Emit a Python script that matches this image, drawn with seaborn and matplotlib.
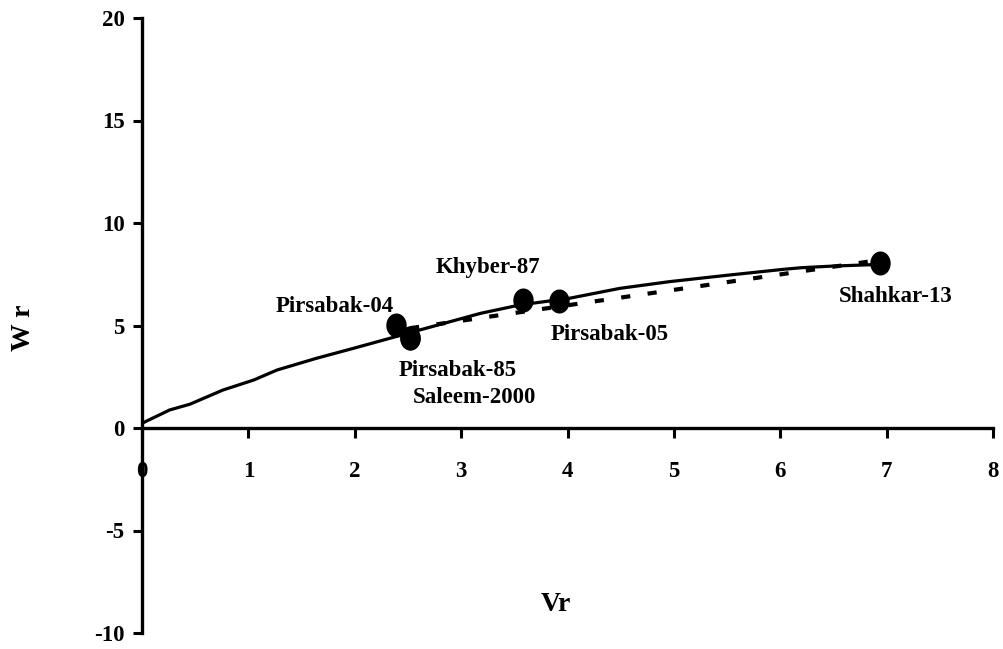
import numpy as np
import pandas as pd
import matplotlib
matplotlib.use("Agg")
import matplotlib.pyplot as plt
from matplotlib.path import Path
from matplotlib.transforms import Affine2D
import seaborn as sns

# ---------------- data ----------------
curve_vr = [0.0, 0.26, 0.45, 0.76, 1.05, 1.27, 1.64, 1.99, 2.27, 2.61, 3.18,
            3.55, 4.02, 4.49, 4.96, 5.50, 6.03, 6.20, 6.50, 6.94]
curve_wr = [0.23, 0.88, 1.16, 1.85, 2.34, 2.83, 3.40, 3.89, 4.29, 4.78, 5.59,
            6.00, 6.33, 6.81, 7.14, 7.45, 7.74, 7.82, 7.90, 7.98]

reg_vr = [2.52, 6.94]
reg_wr = [4.87, 8.20]

genotypes = ["Pirsabak-04", "Pirsabak-85", "Saleem-2000", "Khyber-87",
             "Pirsabak-05", "Shahkar-13"]
point_vr = [2.39, 2.52, 2.52, 3.58, 3.92, 6.94]
point_wr = [5.02, 4.39, 4.39, 6.24, 6.20, 8.05]

x_ticks = [0, 1, 2, 3, 4, 5, 6, 7, 8]
y_ticks = [-10, -5, 0, 5, 10, 15, 20]

# ---------------- style ----------------
sns.set_theme(style="white")
plt.rcParams["font.family"] = ["Liberation Serif", "DejaVu Serif"]
plt.rcParams["font.weight"] = "bold"

fig = plt.figure(figsize=(10.04, 6.49), dpi=100)
ax = fig.add_axes([142 / 1004, 1 - 633 / 649, (993 - 142) / 1004, (633 - 18) / 649])

curve_df = pd.DataFrame({"Vr": curve_vr, "Wr": curve_wr})
reg_df = pd.DataFrame({"Vr": reg_vr, "Wr": reg_wr})
pts_df = pd.DataFrame({"Vr": point_vr, "Wr": point_wr, "g": genotypes})

sns.lineplot(data=curve_df, x="Vr", y="Wr", sort=False, color="black",
             linewidth=2.3, ax=ax, zorder=3)
sns.lineplot(data=reg_df, x="Vr", y="Wr", sort=False, color="black",
             linewidth=3.0, ax=ax, zorder=2)
ax.lines[-1].set_dashes((2.2, 4.2))
ax.lines[-1].set_dash_capstyle("butt")

# slightly tall ellipse marker
circ = Path.unit_circle()
ell = Path(Affine2D().scale(1.0, 1.18).transform(circ.vertices), circ.codes)
sns.scatterplot(data=pts_df, x="Vr", y="Wr", color="black", marker=ell,
                s=300, edgecolor="black", linewidth=0, ax=ax, zorder=5)

label_offsets = {
    "Pirsabak-04": (-44.4, 9.4),
    "Pirsabak-85": (34.6, -27.4),
    "Saleem-2000": (46.1, -46.8),
    "Khyber-87": (-25.4, 19.4),
    "Pirsabak-05": (36.7, -28.1),
    "Shahkar-13": (10.8, -28.1),
}
for g, xv, yv in zip(genotypes, point_vr, point_wr):
    ax.annotate(g, (xv, yv), xytext=label_offsets[g], textcoords="offset points",
                ha="center", va="baseline", fontsize=16.5, fontweight="bold",
                color="black", zorder=6)

# axes
ax.set_xlim(0, 8)
ax.set_ylim(-10, 20)
ax.set_xticks(x_ticks)
ax.set_yticks(y_ticks)
ax.set_xticklabels([str(t) for t in x_ticks])
ax.set_yticklabels([str(t) for t in y_ticks])
ax.spines["top"].set_visible(False)
ax.spines["right"].set_visible(False)
ax.spines["bottom"].set_position(("data", 0))
for s in ("left", "bottom"):
    ax.spines[s].set_linewidth(2.4)
    ax.spines[s].set_color("black")
ax.tick_params(axis="x", direction="out", length=7, width=2.2, pad=17,
               labelsize=16.5, colors="black", bottom=True)
ax.tick_params(axis="y", direction="out", length=6.5, width=2.2, pad=6,
               labelsize=16.5, colors="black", left=True)
for lab in ax.get_xticklabels() + ax.get_yticklabels():
    lab.set_fontweight("bold")
ax.grid(False)
ax.set_facecolor("white")
fig.patch.set_facecolor("white")

xl = ax.set_xlabel("Vr", fontsize=20, fontweight="bold", color="black")
ax.xaxis.set_label_coords(0.4865, 0.047)
xl.set_verticalalignment("center")
yl = ax.set_ylabel("W r", fontsize=20, fontweight="bold", color="black")
ax.yaxis.set_label_coords(-0.1387, 0.496)
yl.set_verticalalignment("center")

fig.savefig("out.png", dpi=100, facecolor="white")
